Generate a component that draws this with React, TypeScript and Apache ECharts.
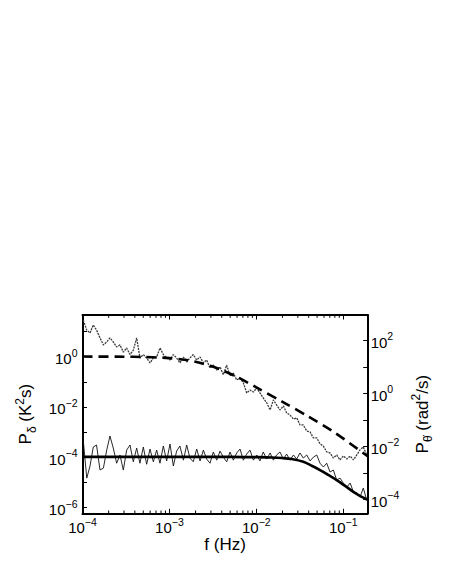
import React, { useEffect, useRef } from 'react';
import * as echarts from 'echarts';

// ---------- data ----------
// frequency grid (Hz) of the two measured spectra
const FREQ = [
  1.02e-4, 1.12e-4, 1.22e-4, 1.33e-4, 1.45e-4, 1.59e-4, 1.74e-4, 1.90e-4, 2.07e-4, 2.26e-4,
  2.47e-4, 2.70e-4, 2.95e-4, 3.22e-4, 3.52e-4, 3.84e-4, 4.20e-4, 4.58e-4, 5.01e-4, 5.47e-4,
  5.98e-4, 6.53e-4, 7.13e-4, 7.79e-4, 8.51e-4, 9.29e-4, 1.015e-3, 1.11e-3, 1.21e-3, 1.32e-3,
  1.45e-3, 1.58e-3, 1.72e-3, 1.88e-3, 2.06e-3, 2.25e-3, 2.46e-3, 2.68e-3, 2.93e-3, 3.20e-3,
  3.50e-3, 3.82e-3, 4.17e-3, 4.56e-3, 4.98e-3, 5.44e-3, 5.94e-3, 6.49e-3, 7.09e-3, 7.74e-3,
  8.45e-3, 9.24e-3, 1.01e-2, 1.10e-2, 1.20e-2, 1.32e-2, 1.44e-2, 1.57e-2, 1.71e-2, 1.87e-2,
  2.05e-2, 2.23e-2, 2.44e-2, 2.67e-2, 2.91e-2, 3.18e-2, 3.47e-2, 3.80e-2, 4.15e-2, 4.53e-2,
  4.95e-2, 5.40e-2, 5.90e-2, 6.45e-2, 7.04e-2, 7.69e-2, 8.40e-2, 9.18e-2, 0.100, 0.110,
  0.120, 0.131, 0.143, 0.156, 0.170, 0.186,
];

// upper (grey) spectrum, left axis P_delta (K^2 s)
const P_DELTA = [
  28, 11.3, 8.6, 18, 11.3, 5.5, 2.9, 3.8, 5.5, 3.8,
  2.4, 2.9, 1.5, 2.2, 1.2, 1.8, 5.5, 0.88, 1.2, 0.88,
  0.56, 0.88, 0.96, 2.2, 1.2, 0.88, 0.73, 1.2, 0.88, 0.56,
  0.96, 0.61, 0.88, 1.2, 0.73, 0.96, 0.56, 0.73, 0.35, 0.46,
  0.29, 0.39, 0.19, 0.46, 0.17, 0.22, 0.118, 0.14, 0.09, 0.036,
  0.047, 0.039, 0.057, 0.036, 0.0227, 0.0144, 0.0076, 0.019, 0.012, 0.0076,
  0.0109, 0.0058, 0.0048, 0.0033, 0.0037, 0.00193, 0.00193, 0.00111, 0.00102, 0.00059,
  0.00059, 0.00034, 0.00028, 0.000163, 0.00015, 0.000094, 0.000124, 0.000079, 0.000113, 0.000086,
  0.000113, 0.000079, 0.000124, 0.0002, 0.00026, 0.000124,
];

// lower (black) spectrum, right axis P_theta-dot (rad^2/s)
const P_THETA = [
  0.0173, 0.00063, 0.0018, 0.0094, 0.0112, 0.00127, 0.00151, 0.0072, 0.0245, 0.0086,
  0.0023, 0.0047, 0.00127, 0.0072, 0.0112, 0.0026, 0.0086, 0.0023, 0.0094, 0.0021,
  0.0079, 0.0026, 0.0072, 0.0023, 0.0103, 0.0028, 0.0122, 0.0018, 0.0066, 0.0103,
  0.003, 0.0112, 0.0036, 0.0026, 0.0079, 0.0028, 0.0072, 0.0033, 0.0023, 0.0061,
  0.003, 0.0066, 0.0039, 0.0026, 0.0061, 0.003, 0.0056, 0.0079, 0.003, 0.0051,
  0.0072, 0.003, 0.0047, 0.0028, 0.0061, 0.0033, 0.0056, 0.003, 0.0047, 0.0061,
  0.0033, 0.0051, 0.003, 0.0047, 0.0033, 0.0056, 0.0036, 0.0047, 0.0028, 0.0039,
  0.0047, 0.0023, 0.00165, 0.0023, 0.00107, 0.00127, 0.00053, 0.00063, 0.00041, 0.00029,
  0.00041, 0.000187, 0.000172, 0.000121, 0.000265, 0.000094,
];

// dashed model curve for the upper spectrum (left axis)
const FIT_DELTA_F = [1e-4, 3e-4, 5e-4, 8e-4, 1e-3, 1.5e-3, 2e-3, 3e-3, 4e-3, 6e-3, 1e-2, 2e-2, 4e-2, 8e-2, 0.191];
const FIT_DELTA_P = [1.0, 0.99, 0.96, 0.91, 0.87, 0.75, 0.62, 0.42, 0.29, 0.155, 0.06, 0.016, 0.0041, 0.00095, 0.00011];

// solid model curve for the lower spectrum (right axis)
const FIT_THETA_F = [1e-4, 1e-3, 5e-3, 1e-2, 1.5e-2, 2e-2, 2.55e-2, 3.47e-2, 4.4e-2, 5.4e-2, 6.7e-2, 8.4e-2, 0.105, 0.1306, 0.155, 0.178, 0.191];
const FIT_THETA_P = [0.004, 0.004, 0.004, 0.0039, 0.0038, 0.0036, 0.0033, 0.0026, 0.0018, 0.00127, 0.00083, 0.00053, 0.00032, 0.00019, 0.000135, 0.000107, 0.000095];

// axis ranges and labelled decades
const X_MIN = 1e-4;
const X_MAX = 0.191;
const Y_LEFT_MIN = 6.0e-7;
const Y_LEFT_MAX = 44.7;
const Y_RIGHT_MIN = 2.95e-5;
const Y_RIGHT_MAX = 912;
const X_LABEL_EXP = [-4, -3, -2, -1];
const Y_LEFT_LABEL_EXP = [-6, -4, -2, 0];
const Y_RIGHT_LABEL_EXP = [-4, -2, 0, 2];
const MINOR_DECADES = [1e-4, 1e-3, 1e-2];
const MINOR_MULT = [2, 3, 4, 5, 6, 7, 8, 9];

const X_NAME = 'f (Hz)';
const Y_LEFT_NAME = '{b|P}{sub|δ}{b| (K}{sup|2}{b|s)}';
const Y_RIGHT_NAME = '{b|P}{sub|θ\u0307}{b| (rad}{sup|2}{b|/s)}';

// ---------- chart ----------
const FONT = '"Liberation Sans", Arial, Helvetica, sans-serif';

const tickRich = {
  b: { fontSize: 15, lineHeight: 19, verticalAlign: 'bottom', fontFamily: FONT, color: '#000' },
  s: { fontSize: 10.5, lineHeight: 11, verticalAlign: 'top', fontFamily: FONT, color: '#000' },
};
const nameRich = {
  b: { fontSize: 17, lineHeight: 24, verticalAlign: 'middle', fontFamily: FONT, color: '#000' },
  sub: { fontSize: 12, lineHeight: 12, verticalAlign: 'bottom', fontFamily: FONT, color: '#000' },
  sup: { fontSize: 12, lineHeight: 12, verticalAlign: 'top', fontFamily: FONT, color: '#000' },
};

function makeFormatter(exps: number[]) {
  return (v: number) => {
    const e = Math.log10(v);
    const r = Math.round(e);
    if (Math.abs(e - r) > 1e-6 || exps.indexOf(r) < 0) return '';
    const s = r < 0 ? '\u2212' + String(-r) : String(r);
    return '{b|10}{s|' + s + '}';
  };
}

const frameLine = { show: true, onZero: false, lineStyle: { color: '#000', width: 2 } };
const majorTick = { show: true, inside: true, length: 4.5, lineStyle: { color: '#000', width: 1 } };

function buildOption() {
  const minorTicks: number[][] = [];
  MINOR_DECADES.forEach((d) => MINOR_MULT.forEach((m) => {
    const f = m * d;
    if (f < X_MAX) minorTicks.push([f, 1]);
  }));

  return {
    animation: false,
    backgroundColor: '#fff',
    grid: { left: 82.5, right: 82.3, top: 315, bottom: 68.7, containLabel: false, outerBoundsMode: 'none' },
    xAxis: [
      {
        type: 'log', logBase: 10, min: X_MIN, max: X_MAX, position: 'bottom',
        axisLine: frameLine, axisTick: majorTick, splitLine: { show: false },
        axisLabel: { margin: 3, formatter: makeFormatter(X_LABEL_EXP), rich: tickRich, showMinLabel: true, showMaxLabel: true },
        name: X_NAME, nameLocation: 'middle', nameGap: 22,
        nameTextStyle: { fontSize: 17, fontFamily: FONT, color: '#000' },
      },
      {
        type: 'log', logBase: 10, min: X_MIN, max: X_MAX, position: 'top',
        axisLine: frameLine, axisTick: majorTick, splitLine: { show: false },
        axisLabel: { show: false },
      },
    ],
    yAxis: [
      {
        type: 'log', logBase: 10, min: Y_LEFT_MIN, max: Y_LEFT_MAX, position: 'left',
        axisLine: frameLine, axisTick: majorTick, splitLine: { show: false },
        axisLabel: { margin: 5, formatter: makeFormatter(Y_LEFT_LABEL_EXP), rich: tickRich },
        name: Y_LEFT_NAME, nameLocation: 'middle', nameRotate: 90, nameGap: 37,
        nameTextStyle: { rich: nameRich },
      },
      {
        type: 'log', logBase: 10, min: Y_RIGHT_MIN, max: Y_RIGHT_MAX, position: 'right',
        axisLine: frameLine, axisTick: majorTick, splitLine: { show: false },
        axisLabel: { margin: 3, formatter: makeFormatter(Y_RIGHT_LABEL_EXP), rich: tickRich },
        name: Y_RIGHT_NAME, nameLocation: 'middle', nameRotate: 90, nameGap: 39,
        nameTextStyle: { rich: nameRich },
      },
    ],
    series: [
      {
        name: 'P_delta data', type: 'line', xAxisIndex: 0, yAxisIndex: 0, symbol: 'none',
        data: FREQ.map((f, i) => [f, P_DELTA[i]]),
        lineStyle: { color: '#3a3a3a', width: 1.3, type: [2, 1] }, z: 2,
      },
      {
        name: 'P_delta model', type: 'line', xAxisIndex: 0, yAxisIndex: 0, symbol: 'none', smooth: 0.3,
        data: FIT_DELTA_F.map((f, i) => [f, FIT_DELTA_P[i]]),
        lineStyle: { color: '#000', width: 2.6, type: [10, 6] }, z: 3,
      },
      {
        name: 'P_theta data', type: 'line', xAxisIndex: 0, yAxisIndex: 1, symbol: 'none',
        data: FREQ.map((f, i) => [f, P_THETA[i]]),
        lineStyle: { color: '#111', width: 0.9 }, z: 2,
      },
      {
        name: 'P_theta model', type: 'line', xAxisIndex: 0, yAxisIndex: 1, symbol: 'none', smooth: 0.3,
        data: FIT_THETA_F.map((f, i) => [f, FIT_THETA_P[i]]),
        lineStyle: { color: '#000', width: 2.6 }, z: 3,
      },
      {
        name: 'minor ticks', type: 'custom', xAxisIndex: 0, yAxisIndex: 0, silent: true, clip: false, z: 5,
        data: minorTicks,
        renderItem: (params: any, api: any) => {
          const p = api.coord([api.value(0), api.value(1)]);
          const cs = params.coordSys;
          const bottom = cs.y + cs.height;
          const st = { stroke: '#000', lineWidth: 1 };
          return {
            type: 'group',
            children: [
              { type: 'line', shape: { x1: p[0], y1: bottom, x2: p[0], y2: bottom - 2.8 }, style: st },
              { type: 'line', shape: { x1: p[0], y1: cs.y, x2: p[0], y2: cs.y + 2.8 }, style: st },
            ],
          };
        },
      },
    ],
  };
}

export default function App() {
  const ref = useRef<HTMLDivElement>(null);
  useEffect(() => {
    if (!ref.current) return;
    const chart = echarts.init(ref.current, undefined, { renderer: 'svg' });
    chart.setOption(buildOption() as any);
    return () => chart.dispose();
  }, []);
  return (
    <div
      ref={ref}
      style={{ position: 'absolute', left: 0, top: 0, width: 450, height: 582, background: '#fff' }}
    />
  );
}
